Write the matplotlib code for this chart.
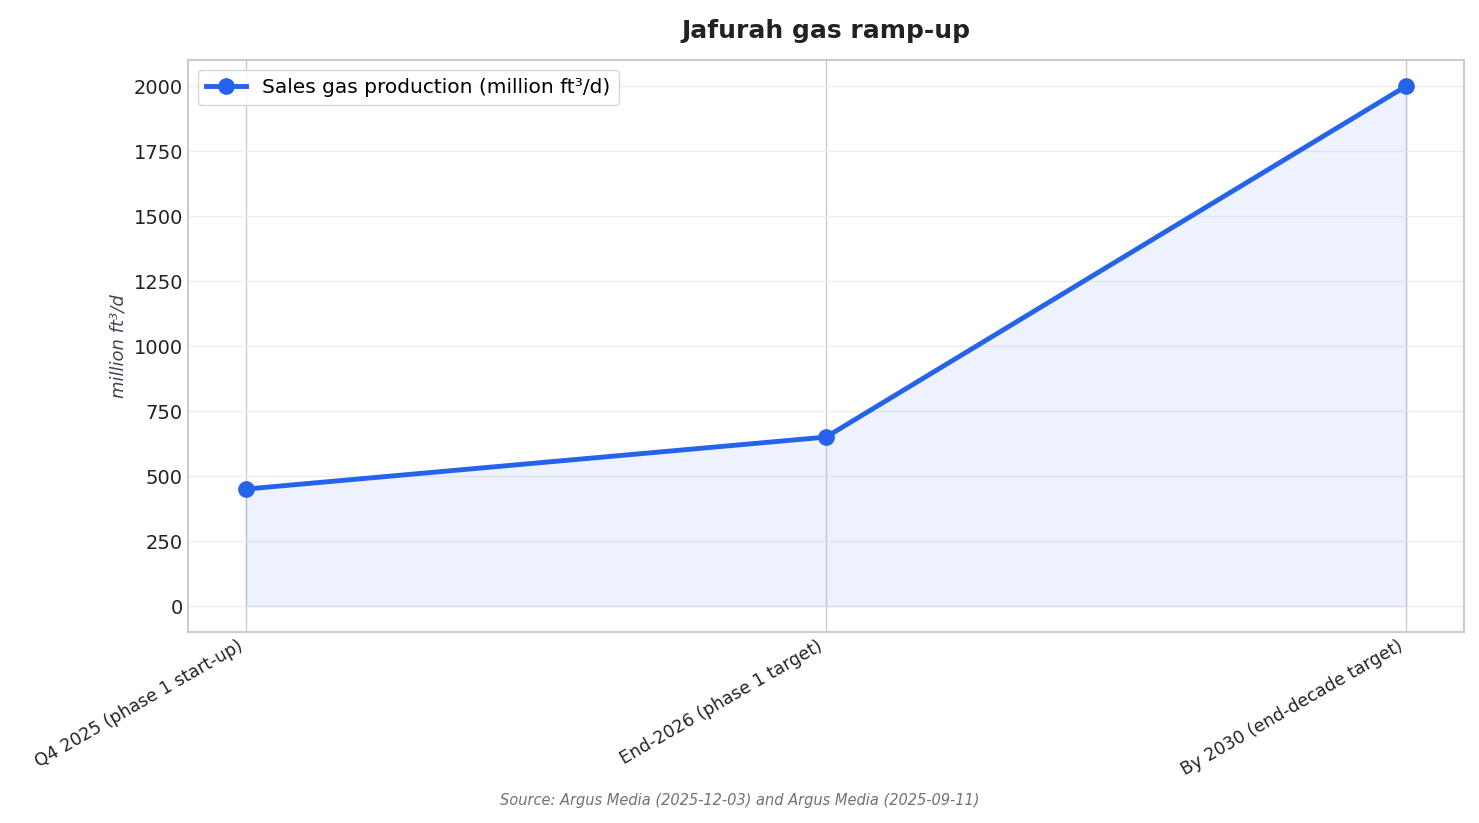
import matplotlib
matplotlib.use("Agg")
import matplotlib.pyplot as plt

categories = ["Q4 2025 (phase 1 start-up)", "End-2026 (phase 1 target)", "By 2030 (end-decade target)"]
values = [450, 650, 2000]

fig, ax = plt.subplots(figsize=(14.79, 8.23), dpi=100)
x = list(range(len(categories)))
ax.fill_between(x, values, 0, color="#2563eb", alpha=0.08)
ax.plot(x, values, color="#2563eb", lw=3.5, marker="o", ms=11, label="Sales gas production (million ft³/d)")
ax.set_xticks(x)
ax.set_xticklabels(categories, rotation=30, ha="right", fontsize=12.5, color="#222222")
ax.set_yticks(range(0, 2001, 250))
ax.tick_params(axis="y", labelsize=14, colors="#222222", length=0)
ax.tick_params(axis="x", length=0)
ax.set_ylim(-100, 2100)
ax.set_xlim(-0.1, 2.1)
ax.grid(axis="y", color="#eeeeee", lw=1)
ax.grid(axis="x", color="#cccccc", lw=1)
ax.set_axisbelow(True)
for s in ax.spines.values():
    s.set_color("#cccccc"); s.set_linewidth(1.5)
ax.set_ylabel("million ft³/d", fontsize=13, style="italic", color="#444455")
ax.set_title("Jafurah gas ramp-up", fontsize=18, fontweight="bold", color="#222222", pad=16)
ax.legend(loc="upper left", fontsize=14.5, frameon=True, edgecolor="#cccccc")
fig.text(0.5, 0.022, "Source: Argus Media (2025-12-03) and Argus Media (2025-09-11)", ha="center",
         fontsize=10.5, style="italic", color="#6b7280")
fig.subplots_adjust(left=0.127, right=0.99, top=0.927, bottom=0.232)
fig.savefig("out.png")
